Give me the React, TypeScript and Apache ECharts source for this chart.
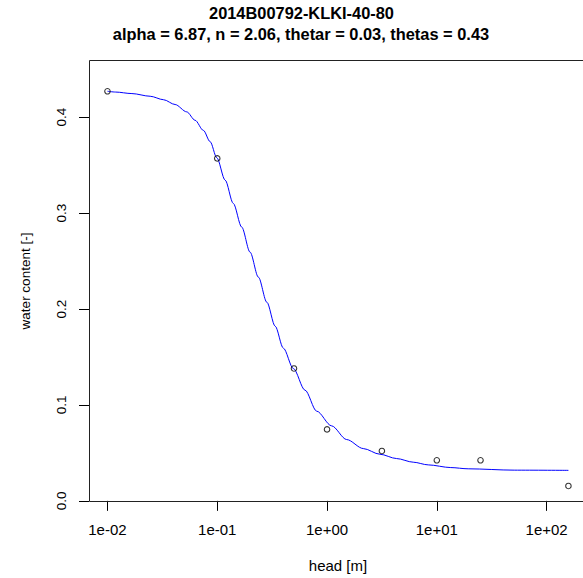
import React, { useEffect, useRef } from "react";
import * as echarts from "echarts";

const titleLine1 = "2014B00792-KLKI-40-80";
const titleLine2 = "alpha = 6.87, n = 2.06, thetar = 0.03, thetas = 0.43";
const xAxisName = "head [m]";
const yAxisName = "water content [-]";

const xTicks = [0.01, 0.1, 1, 10, 100];
const yTicks = [0, 0.1, 0.2, 0.3, 0.4];

// observed points
const obsHead = [0.01, 0.1, 0.5, 1, 3.16, 10, 25, 158];
const obsTheta = [0.427, 0.357, 0.138, 0.0745, 0.052, 0.0423, 0.0423, 0.0155];

// fitted curve
const curveHead = [
  0.01, 0.0118, 0.0167, 0.0245, 0.0324, 0.0413, 0.0528, 0.0628, 0.0748, 0.0861,
  0.0991, 0.118, 0.14, 0.167, 0.199, 0.237, 0.283, 0.337, 0.4, 0.493, 0.63,
  0.805, 1.1, 1.51, 2.14, 3.03, 4.3, 6.1, 8.36, 13.4, 19.3, 50.7, 158,
];
const curveTheta = [
  0.427, 0.4262, 0.4246, 0.4218, 0.4182, 0.4132, 0.4055, 0.3968, 0.3862, 0.3745,
  0.3577, 0.3344, 0.3101, 0.2854, 0.2593, 0.2332, 0.2071, 0.1821, 0.1592, 0.138,
  0.1154, 0.0935, 0.0782, 0.0639, 0.0545, 0.0486, 0.0441, 0.0403, 0.0375, 0.0347,
  0.0334, 0.0320, 0.0318,
];

const FONT = '"Liberation Sans", Arial, sans-serif';

function fmtExp(v: number): string {
  const e = Math.round(Math.log10(v));
  const sign = e < 0 ? "-" : "+";
  const a = Math.abs(e);
  return "1e" + sign + (a < 10 ? "0" + a : String(a));
}

export default function App() {
  const ref = useRef<HTMLDivElement>(null);
  useEffect(() => {
    if (!ref.current) return;
    const chart = echarts.init(ref.current, undefined, { renderer: "svg" });
    chart.setOption({
      animation: false,
      backgroundColor: "#ffffff",
      grid: {
        left: 89,
        top: 60,
        right: -4,
        bottom: 76,
        containLabel: false,
        outerBoundsMode: "none",
      },
      xAxis: {
        type: "log",
        logBase: 10,
        min: 0.00679,
        max: 233.3,
        name: xAxisName,
        nameLocation: "middle",
        nameGap: 56,
        nameTextStyle: { fontFamily: FONT, fontSize: 15, color: "#000" },
        axisLine: { show: false },
        splitLine: { show: false },
        minorTick: { show: false },
        axisTick: {
          show: true,
          length: 10,
          customValues: xTicks,
          lineStyle: { color: "#000", width: 1 },
        },
        axisLabel: {
          customValues: xTicks,
          margin: 20,
          fontFamily: FONT,
          fontSize: 15,
          color: "#000",
          formatter: (v: number) => fmtExp(v),
        },
      },
      yAxis: {
        type: "value",
        min: -0.0012,
        max: 0.4596,
        name: yAxisName,
        nameLocation: "middle",
        nameGap: 57,
        nameTextStyle: { fontFamily: FONT, fontSize: 13.5, color: "#000" },
        axisLine: { show: false },
        splitLine: { show: false },
        axisTick: {
          show: true,
          length: 10,
          customValues: yTicks,
          lineStyle: { color: "#000", width: 1 },
        },
        axisLabel: {
          customValues: yTicks,
          rotate: 90,
          margin: 21,
          fontFamily: FONT,
          fontSize: 13.5,
          color: "#000",
          formatter: (v: number) => v.toFixed(1),
        },
      },
      graphic: [
        {
          type: "rect",
          shape: { x: 89.5, y: 60.5, width: 500, height: 441 },
          style: { fill: "none", stroke: "#222", lineWidth: 1 },
          silent: true,
          z: 100,
        },
        {
          type: "text",
          x: 301.5,
          y: 13,
          style: {
            text: titleLine1,
            fontFamily: FONT,
            fontSize: 16.4,
            fontWeight: "bold",
            fill: "#000",
            align: "center",
            verticalAlign: "middle",
          },
        },
        {
          type: "text",
          x: 301,
          y: 34,
          style: {
            text: titleLine2,
            fontFamily: FONT,
            fontSize: 16.4,
            fontWeight: "bold",
            fill: "#000",
            align: "center",
            verticalAlign: "middle",
          },
        },
      ],
      series: [
        {
          type: "line",
          data: curveHead.map((h, i) => [h, curveTheta[i]]),
          showSymbol: false,
          smooth: 0.3,
          smoothMonotone: "x",
          lineStyle: { color: "#0000ff", width: 1 },
          z: 2,
        },
        {
          type: "scatter",
          data: obsHead.map((h, i) => [h, obsTheta[i]]),
          symbol: "circle",
          symbolSize: 5.5,
          itemStyle: { color: "transparent", borderColor: "#000", borderWidth: 1.1 },
          z: 3,
        },
      ],
    });
    return () => chart.dispose();
  }, []);
  return (
    <div
      ref={ref}
      style={{ position: "fixed", left: 0, top: 0, width: 583, height: 578, background: "#fff" }}
    />
  );
}
